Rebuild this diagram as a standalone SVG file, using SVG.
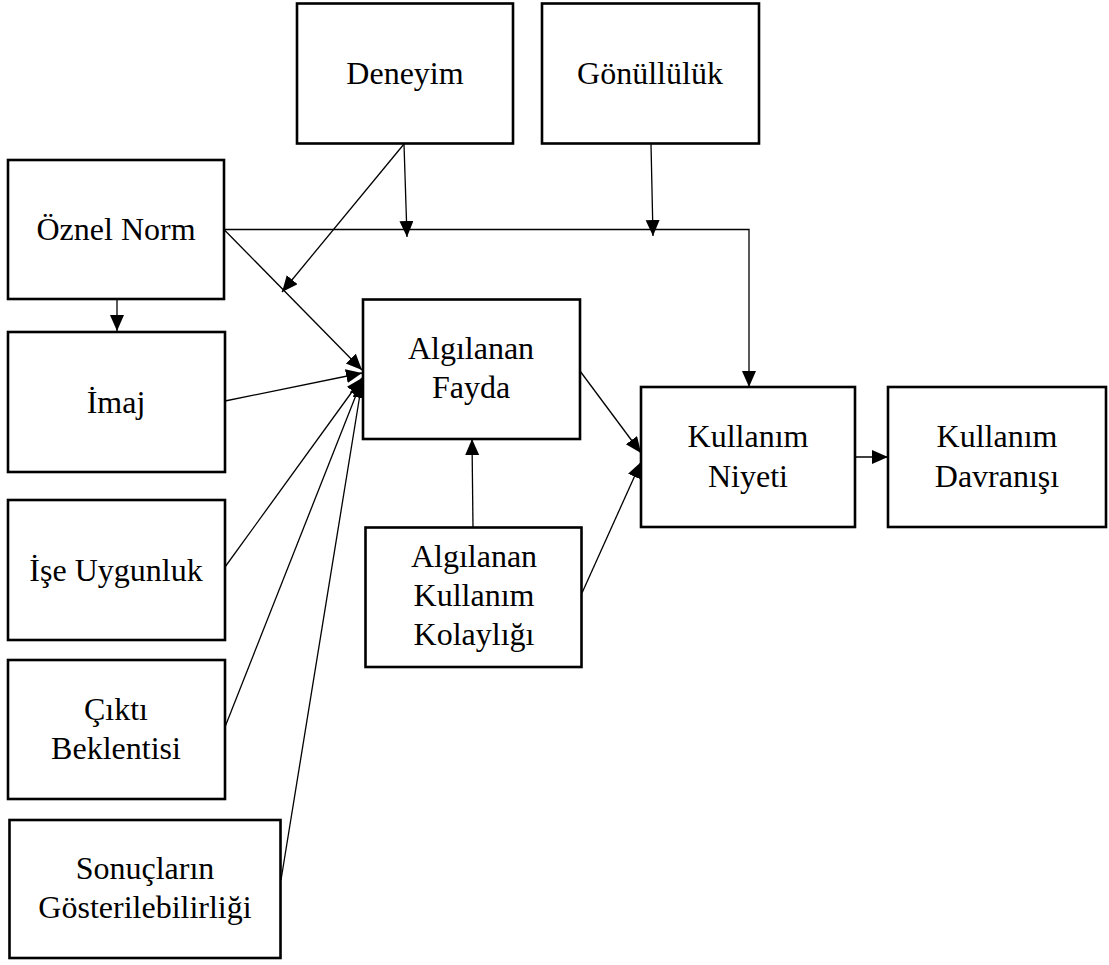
<svg xmlns="http://www.w3.org/2000/svg" width="1109" height="965" viewBox="0 0 1109 965">
  <style>
    .box { fill: #ffffff; stroke: #000000; stroke-width: 2.6; }
    .lbl { font-family: "Liberation Serif", "Times New Roman", serif; font-size: 32px; fill: #000000; text-anchor: middle; }
    .edge { fill: none; stroke: #000000; stroke-width: 1.3; marker-end: url(#arrow); }
  </style>
  <defs>
    <marker id="arrow" markerUnits="userSpaceOnUse" markerWidth="17" markerHeight="15" refX="16" refY="7" orient="auto">
      <path d="M0,0 L16,7 L0,14 z" fill="#000000"/>
    </marker>
  </defs>
  <rect width="1109" height="965" fill="#ffffff"/>

  <!-- connectors -->
  <g id="connectors">
    <line class="edge" x1="117" y1="299" x2="117" y2="331"/>
    <polyline class="edge" points="224,229.5 749,229.5 749,387"/>
    <line class="edge" x1="224" y1="229.5" x2="362" y2="370"/>
    <line class="edge" x1="404" y1="144" x2="407" y2="237"/>
    <line class="edge" x1="404" y1="144" x2="282" y2="292"/>
    <line class="edge" x1="651" y1="144" x2="653" y2="236"/>
    <line class="edge" x1="225" y1="401" x2="362" y2="373"/>
    <line class="edge" x1="225" y1="567" x2="362" y2="378"/>
    <line class="edge" x1="225" y1="727" x2="362" y2="380"/>
    <line class="edge" x1="281" y1="880" x2="362" y2="382"/>
    <line class="edge" x1="473" y1="527" x2="472" y2="439"/>
    <line class="edge" x1="580" y1="371" x2="641" y2="453"/>
    <line class="edge" x1="582" y1="593" x2="641" y2="462"/>
    <line class="edge" x1="855" y1="457" x2="888" y2="457"/>
  </g>

  <!-- nodes -->
  <g id="deneyim">
    <rect class="box" x="297" y="3.5" width="216" height="140"/>
    <text class="lbl" x="405" y="84">Deneyim</text>
  </g>
  <g id="gonulluluk">
    <rect class="box" x="542" y="3.5" width="217" height="140"/>
    <text class="lbl" x="650" y="84">Gönüllülük</text>
  </g>
  <g id="oznel-norm">
    <rect class="box" x="8" y="160" width="216" height="139"/>
    <text class="lbl" x="116" y="240">Öznel Norm</text>
  </g>
  <g id="imaj">
    <rect class="box" x="8" y="332" width="217" height="140"/>
    <text class="lbl" x="116" y="413">İmaj</text>
  </g>
  <g id="ise-uygunluk">
    <rect class="box" x="8" y="500" width="217" height="140"/>
    <text class="lbl" x="116" y="581">İşe Uygunluk</text>
  </g>
  <g id="cikti-beklentisi">
    <rect class="box" x="8" y="660" width="217" height="139"/>
    <text class="lbl" x="116" y="720">Çıktı</text>
    <text class="lbl" x="116" y="759">Beklentisi</text>
  </g>
  <g id="sonuclarin-gosterilebilirligi">
    <rect class="box" x="9.5" y="820" width="271" height="138"/>
    <text class="lbl" x="145" y="879">Sonuçların</text>
    <text class="lbl" x="145" y="918">Gösterilebilirliği</text>
  </g>
  <g id="algilanan-fayda">
    <rect class="box" x="363" y="299.5" width="217" height="139.5"/>
    <text class="lbl" x="471" y="359">Algılanan</text>
    <text class="lbl" x="471" y="398">Fayda</text>
  </g>
  <g id="algilanan-kullanim-kolayligi">
    <rect class="box" x="365.5" y="527.5" width="216" height="139.5"/>
    <text class="lbl" x="474" y="567">Algılanan</text>
    <text class="lbl" x="474" y="606">Kullanım</text>
    <text class="lbl" x="474" y="645">Kolaylığı</text>
  </g>
  <g id="kullanim-niyeti">
    <rect class="box" x="641" y="387" width="214" height="140"/>
    <text class="lbl" x="748" y="447">Kullanım</text>
    <text class="lbl" x="748" y="487">Niyeti</text>
  </g>
  <g id="kullanim-davranisi">
    <rect class="box" x="888" y="387" width="218" height="140"/>
    <text class="lbl" x="997" y="447">Kullanım</text>
    <text class="lbl" x="997" y="487">Davranışı</text>
  </g>
</svg>
